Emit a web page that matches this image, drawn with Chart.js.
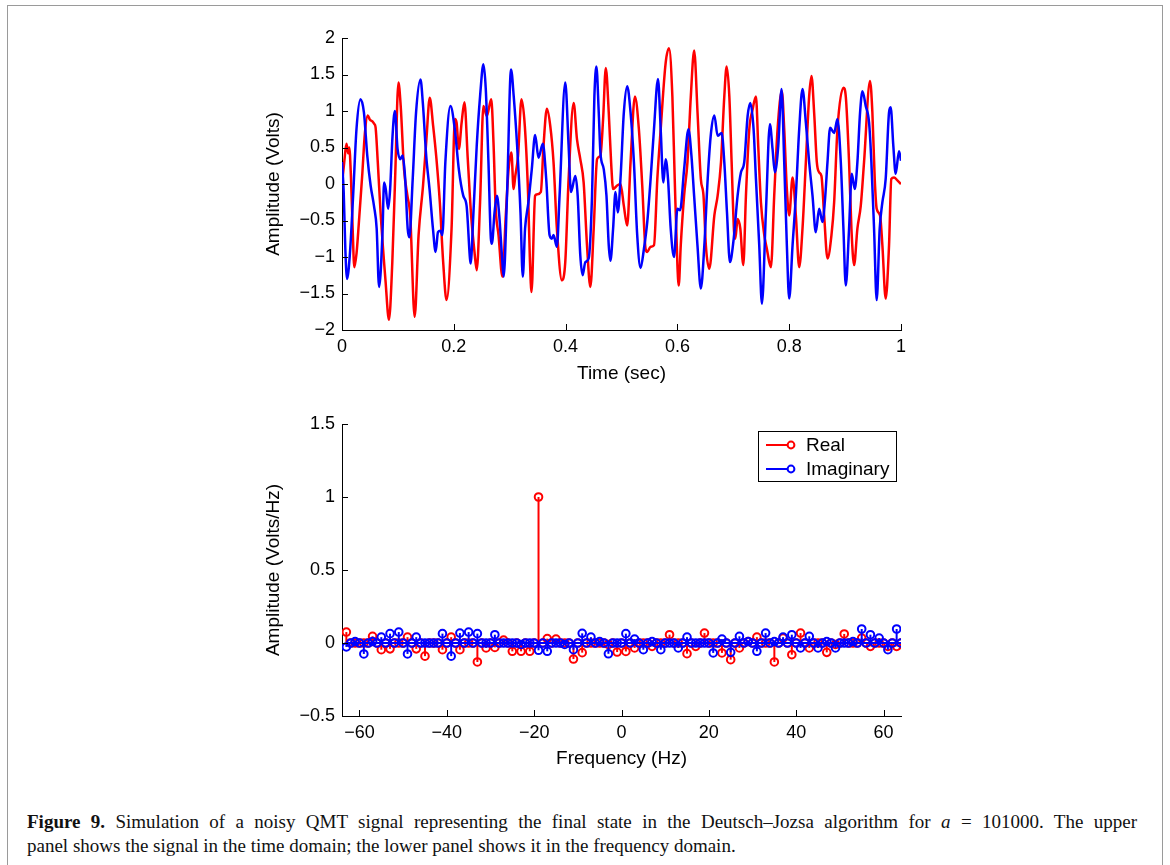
<!DOCTYPE html>
<html>
<head>
<meta charset="utf-8">
<script src="https://cdn.jsdelivr.net/npm/chart.js@4.4.1/dist/chart.umd.min.js"></script>
<style>
  html, body { margin:0; padding:0; background:#fff; width:1170px; height:865px; overflow:hidden; }
  #frame { position:absolute; left:7px; top:5px; width:1156px; height:900px; border:1.5px solid #9a9a9a; box-sizing:border-box; }
  canvas { position:absolute; left:0; }
  #c1 { top:0; }
  #c2 { top:400px; }
  .cap { position:absolute; left:27px; font-family:"Liberation Serif","DejaVu Serif",serif; font-size:19px; line-height:24px; color:#111; white-space:nowrap; }
  #cap1 { top:810px; width:1110px; text-align:justify; text-align-last:justify; }
  #cap2 { top:834px; }
</style>
</head>
<body>
<div id="frame"></div>
<canvas id="c1" width="1170" height="400"></canvas>
<canvas id="c2" width="1170" height="380"></canvas>
<div class="cap" id="cap1"><b>Figure 9.</b> Simulation of a noisy QMT signal representing the final state in the Deutsch–Jozsa algorithm for <i>a</i> = 101000. The upper</div>
<div class="cap" id="cap2">panel shows the signal in the time domain; the lower panel shows it in the frequency domain.</div>
<script>
// ---------- Upper panel: time domain ----------
const realT = [0,0.004,0.008,0.011,0.013,0.016,0.019,0.022,0.026,0.030,0.036,0.041,0.046,0.050,0.054,0.058,0.060,0.064,0.069,0.078,0.084,0.090,0.095,0.101,0.105,0.111,0.117,0.122,0.130,0.137,0.145,0.151,0.157,0.163,0.169,0.175,0.181,0.187,0.196,0.202,0.205,0.209,0.214,0.219,0.225,0.231,0.237,0.241,0.247,0.253,0.259,0.267,0.271,0.275,0.280,0.287,0.293,0.298,0.303,0.307,0.310,0.315,0.321,0.327,0.333,0.336,0.339,0.3455,0.3497,0.3557,0.3605,0.3665,0.3725,0.3784,0.3844,0.3934,0.3994,0.4054,0.4144,0.4204,0.4263,0.4323,0.4383,0.4443,0.4503,0.4563,0.4623,0.4671,0.4719,0.4772,0.4814,0.485,0.4922,0.4982,0.5042,0.5102,0.5162,0.524,0.5311,0.5371,0.5431,0.5461,0.5521,0.5581,0.5641,0.5701,0.579,0.585,0.591,0.5952,0.600,0.6024,0.606,0.612,0.618,0.624,0.630,0.636,0.6419,0.6467,0.6509,0.6571,0.6661,0.672,0.678,0.6839,0.6881,0.6929,0.697,0.7018,0.7036,0.7077,0.7125,0.7179,0.7226,0.7286,0.7345,0.7405,0.7446,0.7494,0.7554,0.7601,0.7643,0.7673,0.7732,0.7792,0.7869,0.7911,0.7958,0.800,0.806,0.8119,0.8179,0.8238,0.8298,0.8357,0.8399,0.8446,0.8494,0.8536,0.8577,0.8625,0.8685,0.8756,0.8804,0.8863,0.897,0.9012,0.9071,0.9113,0.9161,0.922,0.928,0.9339,0.9446,0.9488,0.953,0.9565,0.9625,0.9667,0.9726,0.9786,0.9827,0.9875,0.9935,1.0];
const realV = [0.0,0.3,0.55,0.42,0.5,0.1,-0.6,-1.14,-0.95,-0.55,0.1,0.7,0.94,0.88,0.86,0.82,0.78,0.3,-0.39,-1.34,-1.86,-1.07,0.07,1.39,1.07,0.2,-0.16,-0.43,-1.82,-0.70,-0.02,0.61,1.18,0.80,0.34,-0.25,-1.07,-1.59,-0.61,0.89,0.84,0.48,0.84,1.12,0.34,-0.43,-0.93,-1.18,-0.25,1.07,0.93,1.16,0.57,-0.34,-0.70,-1.27,-0.43,0.20,0.43,-0.07,0.11,0.39,1.16,0.80,-0.16,-1.0,-1.48,-0.16,-0.14,-0.11,0.52,1.03,0.8,0.3,-0.61,-1.32,-1.07,0.07,1.11,0.61,0.34,0.02,-0.84,-1.41,-0.61,0.34,0.39,0.89,1.59,0.98,0.3,-0.07,-0.02,0.0,-0.3,-0.57,0.3,1.2,0.75,-0.02,-0.89,-0.93,-0.86,-0.84,0.07,0.75,1.66,1.86,1.2,0.07,-1.11,-1.39,-0.84,-0.16,0.3,1.2,1.83,0.98,0.07,-0.16,-0.84,-1.16,-0.43,-0.16,0.3,1.2,1.61,1.2,0.3,-0.7,-0.75,-0.48,-0.61,-1.11,-0.16,0.75,1.02,1.2,0.52,-0.25,-0.7,-0.89,-1.07,-1.14,-0.16,0.75,1.27,0.75,-0.07,-0.43,0.09,-0.43,-1.14,-0.61,0.3,1.2,1.48,0.98,0.3,0.16,0.11,-0.43,-1.02,-0.7,-0.25,0.75,1.32,1.2,0.3,-0.61,-1.11,-0.61,-0.3,0.3,1.41,0.98,0.07,-0.34,-0.43,-0.84,-1.57,-0.84,0.07,0.09,0.05,0.0];
const imagT = [0,0.003,0.006,0.009,0.0139,0.0199,0.0259,0.0331,0.0392,0.0452,0.0512,0.0572,0.062,0.0663,0.0723,0.0753,0.0783,0.0825,0.0861,0.0904,0.0946,0.0994,0.1042,0.1084,0.1127,0.1175,0.1205,0.1265,0.1325,0.1404,0.1446,0.1506,0.1566,0.1627,0.1675,0.1717,0.1759,0.1795,0.1849,0.194,0.2018,0.209,0.2169,0.2229,0.2289,0.2301,0.2349,0.241,0.247,0.253,0.2572,0.262,0.2663,0.2681,0.2729,0.2771,0.2813,0.2861,0.2892,0.2952,0.3024,0.3072,0.3133,0.3193,0.3234,0.3275,0.3335,0.3395,0.3455,0.3515,0.3593,0.3653,0.3713,0.3754,0.3784,0.3844,0.3892,0.3994,0.4054,0.4096,0.4174,0.4216,0.4263,0.4305,0.4353,0.4413,0.4473,0.4515,0.4551,0.4593,0.4623,0.4683,0.4731,0.4772,0.4802,0.485,0.4892,0.4934,0.4982,0.5042,0.5102,0.5162,0.5222,0.5281,0.5341,0.5401,0.5461,0.5521,0.5581,0.5653,0.5701,0.5749,0.579,0.5832,0.588,0.594,0.600,0.6048,0.612,0.6198,0.6251,0.6299,0.6359,0.6419,0.6482,0.6542,0.6601,0.6661,0.672,0.6792,0.6839,0.6887,0.694,0.700,0.7077,0.7137,0.7196,0.7256,0.7304,0.7363,0.7405,0.7464,0.7512,0.7583,0.7655,0.7702,0.7744,0.7804,0.7863,0.7911,0.7958,0.800,0.806,0.8119,0.8179,0.8238,0.8298,0.8357,0.8417,0.8476,0.8536,0.8595,0.8637,0.8685,0.8732,0.8804,0.8863,0.8923,0.897,0.9012,0.9071,0.9119,0.9173,0.922,0.9268,0.931,0.9369,0.9429,0.947,0.9518,0.9565,0.9619,0.9667,0.9726,0.9786,0.9815,0.9863,0.9905,0.9964,1.0];
const imagV = [0.3,-0.1,-0.9,-1.3,-0.98,-0.16,0.75,1.16,0.98,0.39,-0.02,-0.3,-0.61,-1.41,-0.7,0.02,-0.07,-0.34,-0.07,0.66,1.0,0.48,0.34,0.39,0.11,-0.61,-0.73,0.07,0.98,1.43,1.11,0.39,-0.07,-0.61,-0.93,-0.66,-0.64,-0.7,0.3,1.07,0.75,0.2,-0.16,-0.3,-1.02,-1.09,-0.43,0.52,1.2,1.64,1.3,0.3,-0.75,-0.82,-0.39,-0.16,-0.43,-0.98,-1.27,-0.16,1.57,1.2,0.52,-0.39,-1.27,-0.61,-0.25,0.2,0.67,0.36,0.55,0.07,-0.7,-0.75,-0.7,-0.86,-0.16,1.39,0.52,-0.11,0.11,-0.16,-0.98,-1.25,-1.07,-1.02,-0.16,1.2,1.61,0.98,0.43,0.2,-0.16,-0.84,-1.05,-0.61,-0.11,-0.39,0.07,0.98,1.34,0.98,0.3,-0.7,-1.15,-0.89,-0.52,0.07,0.75,1.44,0.75,0.02,0.34,0.07,-0.61,-1.0,-0.34,-0.36,0.2,0.75,0.39,-0.16,-0.84,-1.43,-0.84,0.07,0.7,0.94,0.66,0.7,0.3,-0.39,-1.07,-0.8,-0.16,0.16,0.3,0.93,1.11,0.75,0.07,-0.84,-1.64,-0.39,0.82,0.48,0.16,0.52,1.3,0.3,-0.84,-1.57,-0.84,-0.16,0.75,1.3,0.84,0.3,-0.16,-0.66,-0.34,-0.52,-0.25,0.3,0.77,0.7,0.89,0.3,-0.61,-1.39,-0.61,0.14,-0.07,0.3,0.98,1.27,1.07,0.84,0.3,-0.61,-1.59,-0.61,-0.25,0.07,0.98,1.05,0.52,0.14,0.45,0.32];
const timeTicks = [0,0.2,0.4,0.6,0.8,1];
const voltTicks = [-2,-1.5,-1,-0.5,0,0.5,1,1.5,2];

// ---------- Lower panel: frequency domain ----------
const freqHz = [
  -63,-62,-61,-60,-59,-58,-57,-56,-55,-54,-53,-52,-51,-50,-49,-48,
  -47,-46,-45,-44,-43,-42,-41,-40,-39,-38,-37,-36,-35,-34,-33,-32,
  -31,-30,-29,-28,-27,-26,-25,-24,-23,-22,-21,-20,-19,-18,-17,-16,
  -15,-14,-13,-12,-11,-10,-9,-8,-7,-6,-5,-4,-3,-2,-1,0,
  1,2,3,4,5,6,7,8,9,10,11,12,13,14,15,16,
  17,18,19,20,21,22,23,24,25,26,27,28,29,30,31,32,
  33,34,35,36,37,38,39,40,41,42,43,44,45,46,47,48,
  49,50,51,52,53,54,55,56,57,58,59,60,61,62,63,64];
const realAmp = [
  0.075,0,0,0,0,0,0.046,0,-0.046,0,-0.04,0,0,0,0.04,0,
  -0.04,0,-0.09,0,0,0,-0.046,0,0.04,0,-0.046,0,0,0,-0.13,0,
  -0.034,0,-0.03,0,0.02,0,-0.057,0,-0.057,0,-0.057,0,1.0,0,0.03,0,
  0.027,0,0,0,-0.11,0,-0.066,0,0,0,0,0,-0.01,0,-0.062,0,
  -0.058,0,-0.034,0,0,0,-0.023,0,0,0,0.057,0,0,0,-0.073,0,
  -0.023,0,0.068,0,0,0,-0.068,0,-0.114,0,-0.034,0,0.01,0,0.04,0,
  0,0,-0.13,0,0.034,0,-0.08,0,0.068,0,-0.034,0,0,0,-0.064,0,
  -0.01,0,0.062,0,0,0,0.034,0,-0.023,0,0,0,-0.023,0,-0.023,0];
const imagAmp = [
  -0.027,0,0.01,0,-0.075,0,0.01,0,0.04,0,0.064,0,0.075,0,-0.075,0,
  0.04,0,0,0,0,0,0.064,0,-0.09,0,0.068,0,0.075,0,0.064,0,
  0,0,0.057,0,0,0,0,0,-0.01,0,0,0,-0.05,0,-0.057,0,
  0,0,-0.01,0,-0.046,0,0.066,0,0.04,0,0.01,0,-0.074,0,0,0,
  0.064,0,0.027,0,-0.046,0,0.01,0,-0.046,0,0,0,-0.034,0,0.04,0,
  0,0,0,0,-0.068,0,0.027,0,-0.064,0,0.046,0,0.01,0,-0.057,0,
  0.068,0,0.01,0,0.04,0,0.057,0,-0.034,0,0.046,0,-0.034,0,0.01,0,
  -0.034,0,0,0,0.01,0,0.096,0,0.057,0,0.034,0,-0.046,0,0.096,0];
const freqTicks = [-60,-40,-20,0,20,40,60];
const ampTicks = [-0.5,0,0.5,1,1.5];
const legendLabels = ['Real','Imaginary'];

const RED = '#ff0000', BLUE = '#0000ff';
const FONT = '"Liberation Sans", Arial, Helvetica, sans-serif';
const fmt = v => String(v).replace('-', '\u2212');

const inwardTicks = {
  id: 'inwardTicks',
  afterDraw(chart) {
    const {ctx, chartArea: a, scales: {x, y}} = chart;
    ctx.save();
    ctx.strokeStyle = '#000'; ctx.lineWidth = 1;
    x.ticks.forEach(t => {
      const px = Math.round(x.getPixelForValue(t.value)) + 0.5;
      ctx.beginPath(); ctx.moveTo(px, a.bottom); ctx.lineTo(px, a.bottom - 6); ctx.stroke();
    });
    y.ticks.forEach(t => {
      const py = Math.round(y.getPixelForValue(t.value)) + 0.5;
      ctx.beginPath(); ctx.moveTo(a.left, py); ctx.lineTo(a.left + 6, py); ctx.stroke();
    });
    ctx.restore();
  }
};

function axes(xMin, xMax, xTicks, yMin, yMax, yTicks, xTitle, yTitle, xH) {
  return {
    x: {
      type: 'linear', min: xMin, max: xMax,
      afterBuildTicks: s => { s.ticks = xTicks.map(v => ({value: v})); },
      afterFit: s => { s.height = xH; },
      grid: { display: false, drawTicks: false },
      border: { display: true, color: '#000', width: 1 },
      ticks: { padding: 6, color: '#000', font: { family: FONT, size: 18 }, callback: v => fmt(v), maxRotation: 0, autoSkip: false },
      title: { display: true, text: xTitle, color: '#000', font: { family: FONT, size: 19 }, padding: 0 }
    },
    y: {
      type: 'linear', min: yMin, max: yMax,
      afterBuildTicks: s => { s.ticks = yTicks.map(v => ({value: v})); },
      afterFit: s => { s.width = 80; },
      grid: { display: false, drawTicks: false },
      border: { display: true, color: '#000', width: 1 },
      ticks: { padding: 7, color: '#000', font: { family: FONT, size: 18 }, callback: v => fmt(v), autoSkip: false },
      title: { display: true, text: yTitle, color: '#000', font: { family: FONT, size: 19 }, padding: 0 }
    }
  };
}

const pts = (xs, ys) => xs.map((v, i) => ({x: v, y: ys[i]}));

new Chart(document.getElementById('c1'), {
  type: 'line',
  data: {
    datasets: [
      { label: 'Real', data: pts(realT, realV), borderColor: RED, borderWidth: 2.5, pointRadius: 0, cubicInterpolationMode: 'monotone', order: 2 },
      { label: 'Imaginary', data: pts(imagT, imagV), borderColor: BLUE, borderWidth: 2.5, pointRadius: 0, cubicInterpolationMode: 'monotone', order: 1 }
    ]
  },
  options: {
    responsive: false, animation: false, devicePixelRatio: 1,
    layout: { padding: { left: 262, right: 269, top: 38, bottom: 15 } },
    plugins: { legend: { display: false }, tooltip: { enabled: false } },
    scales: axes(0, 1, timeTicks, -2, 2, voltTicks, 'Time (sec)', 'Amplitude (Volts)', 55)
  },
  plugins: [inwardTicks]
});

const stems = {
  id: 'stems',
  beforeDatasetDraw(chart, args) {
    const ds = chart.data.datasets[args.index];
    const {ctx, chartArea: a, scales: {x, y}} = chart;
    const y0 = y.getPixelForValue(0);
    ctx.save();
    ctx.beginPath(); ctx.rect(a.left, a.top, a.right - a.left, a.bottom - a.top); ctx.clip();
    ctx.strokeStyle = ds.borderColor; ctx.lineWidth = 2;
    ctx.beginPath();
    ctx.moveTo(x.getPixelForValue(ds.data[0].x), y0);
    ctx.lineTo(x.getPixelForValue(ds.data[ds.data.length - 1].x), y0);
    ctx.stroke();
    ds.data.forEach(p => {
      const px = x.getPixelForValue(p.x);
      ctx.beginPath(); ctx.moveTo(px, y0); ctx.lineTo(px, y.getPixelForValue(p.y)); ctx.stroke();
    });
    ctx.restore();
  }
};

const stemLegend = {
  id: 'stemLegend',
  afterDraw(chart) {
    const {ctx, chartArea: a, data} = chart;
    const bx = a.right - 143, by = a.top + 7, bw = 138, bh = 50;
    ctx.save();
    ctx.fillStyle = '#fff'; ctx.fillRect(bx, by, bw, bh);
    ctx.strokeStyle = '#000'; ctx.lineWidth = 1;
    ctx.strokeRect(Math.round(bx) + 0.5, Math.round(by) + 0.5, bw, bh);
    ctx.font = '19px ' + FONT; ctx.textBaseline = 'middle'; ctx.textAlign = 'left';
    data.datasets.forEach((ds, i) => {
      const cy = by + 14 + i * 24;
      ctx.strokeStyle = ds.borderColor; ctx.lineWidth = 2;
      ctx.beginPath(); ctx.moveTo(bx + 8, cy); ctx.lineTo(bx + 30, cy); ctx.stroke();
      ctx.beginPath(); ctx.arc(bx + 33, cy, 3.4, 0, Math.PI * 2); ctx.stroke();
      ctx.fillStyle = '#000';
      ctx.fillText(legendLabels[i], bx + 48, cy + 1);
    });
    ctx.restore();
  }
};

new Chart(document.getElementById('c2'), {
  type: 'scatter',
  data: {
    datasets: [
      { label: legendLabels[0], data: pts(freqHz, realAmp), borderColor: RED, backgroundColor: 'rgba(0,0,0,0)', pointRadius: 3.8, pointBorderWidth: 2, pointStyle: 'circle', order: 2 },
      { label: legendLabels[1], data: pts(freqHz, imagAmp), borderColor: BLUE, backgroundColor: 'rgba(0,0,0,0)', pointRadius: 3.8, pointBorderWidth: 2, pointStyle: 'circle', order: 1 }
    ]
  },
  options: {
    responsive: false, animation: false, devicePixelRatio: 1,
    layout: { padding: { left: 262, right: 269, top: 24, bottom: 10 } },
    plugins: { legend: { display: false }, tooltip: { enabled: false } },
    scales: axes(-64, 64, freqTicks, -0.5, 1.5, ampTicks, 'Frequency (Hz)', 'Amplitude (Volts/Hz)', 54)
  },
  plugins: [stems, inwardTicks, stemLegend]
});
</script>
</body>
</html>
